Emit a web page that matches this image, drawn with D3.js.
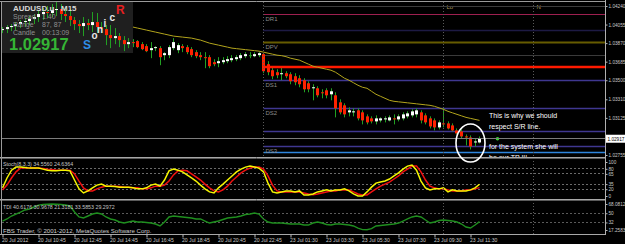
<!DOCTYPE html>
<html>
<head>
<meta charset="utf-8">
<script src="https://cdn.jsdelivr.net/npm/d3@7"></script>
<style>
  html, body { margin: 0; padding: 0; background: #000; overflow: hidden; }
  svg { display: block; }
  text { font-family: "Liberation Sans", Arial, sans-serif; }
</style>
</head>
<body>
<div class="canvas"></div>
<script>
// ---- values ----
const symbol = 'AUDUSD.u';
const timeframe = 'M15';
const infoNames = ['Spread', 'Range', 'Candle'];
const infoValues = ['1.40', '87, 87', '00:13:09'];
const bidPrice = 1.02917;

const timeLabels = ['20 Jul 2012', '20 Jul 10:45', '20 Jul 12:45', '20 Jul 14:45', '20 Jul 16:45', '20 Jul 18:45', '20 Jul 20:45',
    '20 Jul 22:45', '23 Jul 01:30', '23 Jul 03:30', '23 Jul 05:30', '23 Jul 07:30', '23 Jul 09:30', '23 Jul 11:30'];
const priceTicks = [1.04240, 1.04055, 1.03870, 1.03685, 1.03500, 1.03310, 1.03125, 1.02755];

const opens = [1.0400, 1.0401, 1.0403, 1.0404, 1.0406, 1.0408, 1.0409, 1.0411, 1.0413, 1.0416,
    1.0418, 1.0417, 1.0420, 1.0421, 1.0416, 1.0414, 1.0410, 1.0406, 1.0404, 1.0407,
    1.0405, 1.0408, 1.0403, 1.0401, 1.0395, 1.0392, 1.0394, 1.0390, 1.0386, 1.0388,
    1.0389, 1.0386, 1.0384, 1.0380, 1.0382, 1.0382, 1.0375, 1.0375, 1.0382, 1.0380,
    1.0384, 1.0383, 1.0381, 1.0378, 1.0375, 1.0373, 1.0373, 1.0368, 1.0367, 1.0368,
    1.0369, 1.0370, 1.0371, 1.0372, 1.0374, 1.0375, 1.0374, 1.0375, 1.0376, 1.0366,
    1.0360, 1.0358, 1.0356, 1.0357, 1.0356, 1.0354, 1.0352, 1.0350, 1.0347, 1.0342,
    1.0342, 1.0338, 1.0340, 1.0336, 1.0335, 1.0328, 1.0325, 1.0318, 1.0318, 1.0320,
    1.0318, 1.0314, 1.0312, 1.0309, 1.0310, 1.0311, 1.0310, 1.0312, 1.0311, 1.0312,
    1.0314, 1.0315, 1.0316, 1.0318, 1.0315, 1.0312, 1.0310, 1.0303, 1.0307, 1.0307,
    1.0305, 1.0300, 1.0299, 1.0294, 1.0293, 1.0288, 1.0288];
const highs = [1.0403, 1.0405, 1.0406, 1.0408, 1.0410, 1.0412, 1.0414, 1.0416, 1.0420, 1.0422,
    1.0424, 1.0426, 1.0428, 1.0426, 1.0423, 1.0421, 1.0413, 1.0410, 1.0413, 1.0411,
    1.0418, 1.0417, 1.0408, 1.0405, 1.0405, 1.0402, 1.0397, 1.0394, 1.0392, 1.0391,
    1.0390, 1.0388, 1.0386, 1.0388, 1.0384, 1.0384, 1.0378, 1.0385, 1.0392, 1.0387,
    1.0386, 1.0385, 1.0383, 1.0380, 1.0378, 1.0378, 1.0375, 1.0371, 1.0373, 1.0373,
    1.0374, 1.0375, 1.0375, 1.0377, 1.0378, 1.0378, 1.0378, 1.0378, 1.0377, 1.0369,
    1.0364, 1.0361, 1.0364, 1.0359, 1.0358, 1.0357, 1.0355, 1.0352, 1.0349, 1.0346,
    1.0344, 1.0341, 1.0342, 1.0342, 1.0338, 1.0331, 1.0327, 1.0323, 1.0322, 1.0322,
    1.0320, 1.0316, 1.0314, 1.0315, 1.0313, 1.0314, 1.0315, 1.0316, 1.0316, 1.0318,
    1.0319, 1.0321, 1.0322, 1.0320, 1.0317, 1.0314, 1.0312, 1.0310, 1.0322, 1.0309,
    1.0307, 1.0302, 1.0301, 1.0296, 1.0295, 1.0292, 1.0294];
const lows = [1.0397, 1.0397, 1.0399, 1.0400, 1.0402, 1.0403, 1.0405, 1.0406, 1.0408, 1.0410,
    1.0412, 1.0413, 1.0414, 1.0410, 1.0408, 1.0404, 1.0400, 1.0397, 1.0394, 1.0400,
    1.0398, 1.0397, 1.0397, 1.0385, 1.0382, 1.0386, 1.0383, 1.0379, 1.0382, 1.0383,
    1.0382, 1.0380, 1.0378, 1.0372, 1.0379, 1.0365, 1.0370, 1.0372, 1.0380, 1.0377,
    1.0378, 1.0376, 1.0373, 1.0372, 1.0370, 1.0362, 1.0362, 1.0364, 1.0363, 1.0366,
    1.0367, 1.0368, 1.0369, 1.0370, 1.0372, 1.0372, 1.0373, 1.0373, 1.0357, 1.0355,
    1.0351, 1.0352, 1.0350, 1.0352, 1.0346, 1.0345, 1.0343, 1.0338, 1.0338, 1.0330,
    1.0333, 1.0332, 1.0332, 1.0330, 1.0313, 1.0316, 1.0313, 1.0314, 1.0314, 1.0310,
    1.0306, 1.0306, 1.0307, 1.0306, 1.0308, 1.0308, 1.0309, 1.0306, 1.0309, 1.0310,
    1.0312, 1.0313, 1.0313, 1.0307, 1.0306, 1.0302, 1.0300, 1.0301, 1.0303, 1.0301,
    1.0299, 1.0296, 1.0292, 1.0285, 1.0281, 1.0284, 1.0287];
const closes = [1.0401, 1.0403, 1.0404, 1.0406, 1.0408, 1.0409, 1.0411, 1.0413, 1.0416, 1.0418,
    1.0417, 1.0420, 1.0421, 1.0416, 1.0414, 1.0410, 1.0406, 1.0404, 1.0407, 1.0405,
    1.0408, 1.0403, 1.0401, 1.0395, 1.0392, 1.0394, 1.0390, 1.0386, 1.0388, 1.0387,
    1.0383, 1.0381, 1.0379, 1.0382, 1.0383, 1.0373, 1.0377, 1.0383, 1.0388, 1.0385,
    1.0382, 1.0378, 1.0375, 1.0374, 1.0373, 1.0372, 1.0364, 1.0366, 1.0369, 1.0370,
    1.0371, 1.0372, 1.0373, 1.0375, 1.0376, 1.0375, 1.0376, 1.0377, 1.0359, 1.0358,
    1.0354, 1.0355, 1.0357, 1.0354, 1.0349, 1.0348, 1.0346, 1.0341, 1.0341, 1.0343,
    1.0335, 1.0337, 1.0335, 1.0339, 1.0322, 1.0318, 1.0316, 1.0320, 1.0319, 1.0312,
    1.0310, 1.0308, 1.0309, 1.0312, 1.0312, 1.0312, 1.0313, 1.0311, 1.0314, 1.0316,
    1.0317, 1.0319, 1.0320, 1.0310, 1.0308, 1.0304, 1.0303, 1.0308, 1.0306, 1.0302,
    1.0300, 1.0297, 1.0294, 1.0293, 1.0284, 1.0289, 1.02917];

// moving average, visible from bar 29 on
const maFirstBar = 29;
const maValues = [1.0403, 1.0402, 1.0401, 1.0400, 1.0399, 1.0398, 1.0397, 1.0396, 1.0395, 1.0394,
    1.03935, 1.0393, 1.03925, 1.0392, 1.0391, 1.0390, 1.03885, 1.0387, 1.0386, 1.0385,
    1.0384, 1.0383, 1.0382, 1.03815, 1.0381, 1.03805, 1.0380, 1.03795, 1.0379, 1.0378,
    1.0377, 1.0376, 1.0375, 1.03745, 1.03735, 1.0372, 1.0371, 1.0370, 1.0368, 1.0366,
    1.0364, 1.0363, 1.0362, 1.0361, 1.0360, 1.0358, 1.0355, 1.0352, 1.0350, 1.03475,
    1.0345, 1.0343, 1.0342, 1.0339, 1.0336, 1.0334, 1.0332, 1.0330, 1.0329, 1.03285,
    1.0328, 1.03275, 1.0327, 1.03265, 1.0326, 1.03255, 1.0325, 1.0324, 1.03225, 1.0321,
    1.0319, 1.03175, 1.0316, 1.03145, 1.0313, 1.0312, 1.0311, 1.0310];

// daily pivot levels
const pivotNames = ['DR1', 'DPV', 'DS1', 'DS2', 'DS3'];
const pivotPrices = [1.04160, 1.03881, 1.03493, 1.03223, 1.02835];
const extraLevels = [1.04240, 1.03991, 1.03742, 1.02994, 1.02775];
const srLevel = 1.03632;
const dayStartBar = 58;
const sessionNames = ['Lo', 'N'];
const sessionBars = [98, 118];

const stochTitle = 'Stoch(8,3,3) 34.5560 24.6364';
const stochTicks = [100, 80, 65, 35, 20, 0];
const stochLevels = [80, 65, 35, 20];
const stochMain = [24, 53, 76, 85, 85, 84, 82, 82, 82, 79,
    76, 74, 74, 76, 76, 74, 47, 21, 9, 15,
    24, 32, 35, 29, 29, 28, 26, 26, 26, 24,
    21, 21, 24, 32, 35, 29, 47, 74, 79, 76,
    71, 62, 53, 44, 32, 21, 12, 9, 24, 35,
    47, 59, 71, 79, 85, 88, 85, 82, 71, 38,
    12, 9, 12, 15, 15, 12, 15, 3, 3, 6,
    12, 15, 18, 15, 18, 18, 21, 15, 6, 0,
    0, 12, 26, 38, 41, 44, 50, 59, 68, 79,
    88, 91, 76, 44, 24, 18, 21, 21, 24, 12,
    18, 15, 15, 15, 18, 24, 34.6];
const stochSignal = [18, 32, 53, 71, 82, 82, 82, 82, 82, 81,
    79, 78, 76, 76, 76, 76, 65, 44, 24, 15,
    15, 21, 26, 29, 29, 29, 28, 26, 26, 24,
    24, 21, 21, 24, 29, 29, 32, 44, 62, 74,
    76, 74, 65, 56, 47, 35, 24, 15, 12, 18,
    29, 44, 56, 68, 76, 82, 85, 85, 79, 59,
    32, 15, 12, 12, 12, 12, 12, 9, 6, 4,
    6, 9, 12, 15, 15, 18, 18, 18, 12, 6,
    3, 3, 12, 21, 29, 35, 41, 50, 59, 71,
    79, 88, 88, 71, 47, 29, 24, 21, 21, 18,
    15, 15, 15, 18, 18, 21, 24.6];

const tdiTitle = 'TDI 40.6176 30.9678 21.3181 33.5853 29.2972';
const tdiTicks = [68.0812, 50, 32, 17.2583];
const tdiLevels = [50, 32];
const tdiValues = [34.8, 38.8, 44.6, 48.5, 52.4, 56.4, 58.3, 62.2, 66, 67,
    67.5, 68, 67.5, 67, 66, 64.2, 52.4, 42.7, 40.7, 44.6,
    48.5, 50.5, 48.5, 42.7, 38.8, 36.8, 32.9, 30.9, 32.9, 34.8,
    32.9, 32.9, 31.9, 30.9, 29, 25.1, 32.9, 42.7, 44.6, 43.6,
    42.7, 41.7, 40.7, 38.8, 38.8, 34.8, 30.9, 32.9, 34.8, 37.8,
    40.7, 41.7, 42.7, 44.6, 47.6, 48.5, 50.5, 48.5, 38.8, 32.9,
    30.9, 30.9, 30.9, 30, 29, 29, 29, 27, 27, 30.9,
    32.9, 30.9, 28, 27, 29, 29, 28, 27, 25.1, 21,
    18, 17.8, 20, 25.1, 26, 27, 28, 29, 30.9, 34.8,
    38.8, 42.7, 44.6, 42.7, 36.8, 30.9, 32.9, 35.8, 36.8, 35.8,
    34.8, 32.9, 29, 23.1, 21.2, 27, 33.6];

const noteLines = ['This is why we should', 'respect S/R line.', 'for the system she will', 'be our TP !!!'];

// ---- layout ----
const dims = { width: 625, height: 244, left: 2, right: 605, mainTop: 2, mainBottom: 157,
    stochTop: 159, stochBottom: 199, tdiTop: 201, tdiBottom: 234 };

const svg = d3.select('.canvas')
    .append('svg')
    .attr('width', dims.width)
    .attr('height', dims.height);

svg.append('rect').attr('width', dims.width).attr('height', dims.height).attr('fill', '#000');

const x = d3.scaleLinear().domain([0, 134]).range([2.5, 605.5]);
const y = d3.scaleLinear().domain([1.02755, 1.04240]).range([155, 6]);
const yStoch = d3.scaleLinear().domain([0, 100]).range([196, 162]);
const yTdi = d3.scaleLinear().domain([17.2583, 68.0812]).range([230, 204]);

const defs = svg.append('defs');
const addClip = (id, top, bottom) => defs.append('clipPath').attr('id', id)
    .append('rect').attr('x', dims.left).attr('y', top).attr('width', dims.right - dims.left).attr('height', bottom - top);
addClip('clipMain', dims.mainTop, dims.mainBottom);
addClip('clipStoch', dims.stochTop, dims.stochBottom);
addClip('clipTdi', dims.tdiTop, dims.tdiBottom);

const main = svg.append('g').attr('clip-path', 'url(#clipMain)');
const stoch = svg.append('g').attr('clip-path', 'url(#clipStoch)');
const tdi = svg.append('g').attr('clip-path', 'url(#clipTdi)');

const px = v => Math.floor(v) + 0.5;

// info panel background
main.append('rect')
    .attr('x', 0).attr('y', 0).attr('width', 133).attr('height', 53)
    .attr('fill', '#1f1f1f');

// vertical separators (day, sessions)
[dayStartBar, ...sessionBars].forEach(b => {
    svg.append('line')
        .attr('x1', px(x(b))).attr('x2', px(x(b)))
        .attr('y1', dims.mainTop).attr('y2', dims.tdiBottom)
        .attr('stroke', '#5a5a5a')
        .attr('stroke-dasharray', '1,2');
});

sessionNames.forEach((n, i) => {
    main.append('text')
        .attr('x', x(sessionBars[i]) + 3).attr('y', 9)
        .attr('font-size', 6).attr('fill', '#a8985a')
        .text(n);
});

// pivot levels
const levelStyle = {
    DR1: ['#9e2050', 1, null],
    DPV: ['#cdb800', 2, '1,1'],
    DS1: ['#3f3790', 1.3, null],
    DS2: ['#3f3790', 1.3, null],
    DS3: ['#3f3790', 1.3, null]
};
const extraStyle = [['#3c3c3c', 1, null], ['#3a3488', 1.3, '1,1'], ['#3a3a3a', 1, null], ['#3f3790', 1.3, null], ['#2f86de', 1.6, null]];

const drawLevel = (price, style) => {
    main.append('line')
        .attr('x1', x(dayStartBar)).attr('x2', dims.right)
        .attr('y1', px(y(price))).attr('y2', px(y(price)))
        .attr('stroke', style[0]).attr('stroke-width', style[1])
        .attr('stroke-dasharray', style[2]);
};
extraLevels.forEach((p, i) => drawLevel(p, extraStyle[i]));
pivotNames.forEach((n, i) => {
    drawLevel(pivotPrices[i], levelStyle[n]);
    main.append('text')
        .attr('x', x(dayStartBar) + 2).attr('y', y(pivotPrices[i]) + 6.5)
        .attr('font-size', 6).attr('fill', '#8c8c8c')
        .text(n);
});

// bid line
svg.append('line')
    .attr('x1', dims.left).attr('x2', dims.right)
    .attr('y1', px(y(bidPrice))).attr('y2', px(y(bidPrice)))
    .attr('stroke', '#7c7c7c');

// candles
const bars = opens.map((o, i) => ({ i, o, h: highs[i], l: lows[i], c: closes[i] }));
const candles = main.selectAll('.candle').data(bars).enter().append('g').attr('class', 'candle');
candles.append('line')
    .attr('x1', d => px(x(d.i))).attr('x2', d => px(x(d.i)))
    .attr('y1', d => y(d.h)).attr('y2', d => y(d.l))
    .attr('stroke', '#22a022');
candles.append('rect')
    .attr('x', d => Math.floor(x(d.i)) - 1)
    .attr('width', 3)
    .attr('y', d => y(Math.max(d.o, d.c)))
    .attr('height', d => Math.max(1, Math.abs(y(d.o) - y(d.c))))
    .attr('fill', d => d.c > d.o ? '#ffffff' : (d.c < d.o ? '#ff2200' : '#22a022'));

// S/R line
main.append('line')
    .attr('x1', x(dayStartBar)).attr('x2', dims.right)
    .attr('y1', y(srLevel)).attr('y2', y(srLevel))
    .attr('stroke', '#ff1a00').attr('stroke-width', 2.5);

// moving average
const maLine = d3.line().x((d, i) => x(maFirstBar + i)).y(d => y(d));
main.append('path')
    .attr('d', maLine(maValues))
    .attr('fill', 'none')
    .attr('stroke', '#b2a41c')
    .attr('stroke-width', 1);

// info panel text
main.append('text').attr('x', 13).attr('y', 10.5)
    .attr('font-size', 8).attr('font-weight', 'bold').attr('fill', '#d8d8d8')
    .attr('xml:space', 'preserve')
    .text(`${symbol}   ${timeframe}`);
infoNames.forEach((n, i) => {
    main.append('text').attr('x', 13).attr('y', 18.5 + i * 8.3)
        .attr('font-size', 7).attr('fill', '#909090').text(n);
    main.append('text').attr('x', 42).attr('y', 18.5 + i * 8.3)
        .attr('font-size', 7).attr('fill', '#909090').text(infoValues[i]);
});
main.append('text').attr('x', 9).attr('y', 50)
    .attr('font-size', 16.5).attr('font-weight', 'bold').attr('fill', '#35b535')
    .text(d3.format('.5f')(bidPrice));

const sonic = [['S', 83, 49, 12, '#2f8ee8'], ['o', 91.5, 38.5, 10, '#e8e8e8'], ['n', 97, 33, 10, '#e8e8e8'],
    ['i', 103.5, 27, 10, '#e8e8e8'], ['c', 109.5, 20.5, 10, '#e8e8e8'], ['R', 116, 13.5, 12, '#e82020']];
sonic.forEach(s => {
    main.append('text').attr('x', s[1]).attr('y', s[2])
        .attr('font-size', s[3]).attr('font-weight', 'bold').attr('fill', s[4]).text(s[0]);
});

// note
noteLines.forEach((t, i) => {
    main.append('text')
        .attr('x', 489).attr('y', [117.5, 129, 148.5, 159.5][i])
        .attr('font-family', 'DejaVu Sans').attr('font-size', 7).attr('fill', '#ffffff')
        .text(t);
});
main.append('circle')
    .attr('cx', x(110)).attr('cy', y(bidPrice)).attr('r', 1.8)
    .attr('fill', '#2ee02e');

// stochastic window
stochLevels.forEach(l => {
    stoch.append('line')
        .attr('x1', dims.left).attr('x2', dims.right)
        .attr('y1', px(yStoch(l))).attr('y2', px(yStoch(l)))
        .attr('stroke', '#6a6a6a').attr('stroke-dasharray', '2,2');
});
const stochLine = d3.line().x((d, i) => x(i)).y(d => yStoch(d));
stoch.append('path').attr('d', stochLine(stochSignal))
    .attr('fill', 'none').attr('stroke', '#f01010').attr('stroke-width', 1.5);
stoch.append('path').attr('d', stochLine(stochMain))
    .attr('fill', 'none').attr('stroke', '#f5f500').attr('stroke-width', 1.5);
stoch.append('text').attr('x', 3).attr('y', 166)
    .attr('font-size', 5.3).attr('fill', '#c4c4c4').text(stochTitle);

// TDI window
tdiLevels.forEach(l => {
    tdi.append('line')
        .attr('x1', dims.left).attr('x2', dims.right)
        .attr('y1', px(yTdi(l))).attr('y2', px(yTdi(l)))
        .attr('stroke', '#5a5a5a').attr('stroke-dasharray', '2,2');
});
const tdiLine = d3.line().x((d, i) => x(i)).y(d => yTdi(d));
tdi.append('path').attr('d', tdiLine(tdiValues))
    .attr('fill', 'none').attr('stroke', '#1f8f1f').attr('stroke-width', 1.4);
tdi.append('text').attr('x', 3).attr('y', 209)
    .attr('font-size', 5.3).attr('fill', '#c4c4c4').text(tdiTitle);
tdi.append('text').attr('x', 3).attr('y', 232.5)
    .attr('font-size', 6.1).attr('fill', '#cfcfcf')
    .text('FBS Trader, \u00a9 2001-2012, MetaQuotes Software Corp.');

// frame and separators
const hline = (yy, c) => svg.append('line').attr('x1', 0).attr('x2', dims.right + 0.5)
    .attr('y1', yy).attr('y2', yy).attr('stroke', c);
hline(1.5, '#9a9a9a');
hline(157.5, '#a8a8a8'); hline(158.5, '#5a5a5a');
hline(199.5, '#a8a8a8'); hline(200.5, '#5a5a5a');
hline(234.5, '#a8a8a8');
svg.append('line').attr('x1', 1.5).attr('x2', 1.5).attr('y1', 1).attr('y2', 235).attr('stroke', '#9a9a9a');

// right price axes
const rightAxis = (scale, ticks, fmt) => {
    const g = svg.append('g').attr('transform', `translate(${dims.right + 0.5},0)`)
        .call(d3.axisRight(scale).tickValues(ticks).tickFormat(fmt).tickSize(2).tickPadding(1));
    g.select('.domain').remove();
    g.selectAll('line').attr('stroke', '#b8b8b8');
    g.selectAll('text').attr('fill', '#c8c8c8').attr('font-size', 4.7)
        .attr('font-family', '"Liberation Sans", Arial, sans-serif');
};
rightAxis(y, priceTicks, d3.format('.5f'));
rightAxis(yStoch, stochTicks, d3.format('d'));
rightAxis(yTdi, tdiTicks, d => d % 1 ? d3.format('.4f')(d) : d3.format('d')(d));
svg.append('line').attr('x1', dims.right + 0.5).attr('x2', dims.right + 0.5)
    .attr('y1', 0).attr('y2', 235).attr('stroke', '#b0b0b0');

// bid label
svg.append('rect')
    .attr('x', dims.right + 1).attr('y', y(bidPrice) - 4)
    .attr('width', 20).attr('height', 8).attr('fill', '#ffffff');
svg.append('text')
    .attr('x', dims.right + 2.5).attr('y', y(bidPrice) + 2)
    .attr('font-size', 4.7).attr('fill', '#000').text(d3.format('.5f')(bidPrice));

// time axis
const timeAxis = svg.append('g').attr('transform', `translate(0,${dims.tdiBottom + 0.5})`)
    .call(d3.axisBottom(x).tickValues(timeLabels.map((t, i) => i * 8))
        .tickFormat((d, i) => timeLabels[i]).tickSize(3).tickPadding(1));
timeAxis.select('.domain').remove();
timeAxis.selectAll('line').attr('stroke', '#b8b8b8');
timeAxis.selectAll('text')
    .attr('text-anchor', 'start').attr('dx', -1)
    .attr('fill', '#c8c8c8').attr('font-size', 5.1)
    .attr('font-family', '"Liberation Sans", Arial, sans-serif');

// hand-drawn circle around the last candles
svg.append('ellipse')
    .attr('cx', x(104)).attr('cy', 143)
    .attr('rx', 14.5).attr('ry', 19)
    .attr('fill', 'none').attr('stroke', '#ffffff').attr('stroke-width', 1.6);
</script>
</body>
</html>
